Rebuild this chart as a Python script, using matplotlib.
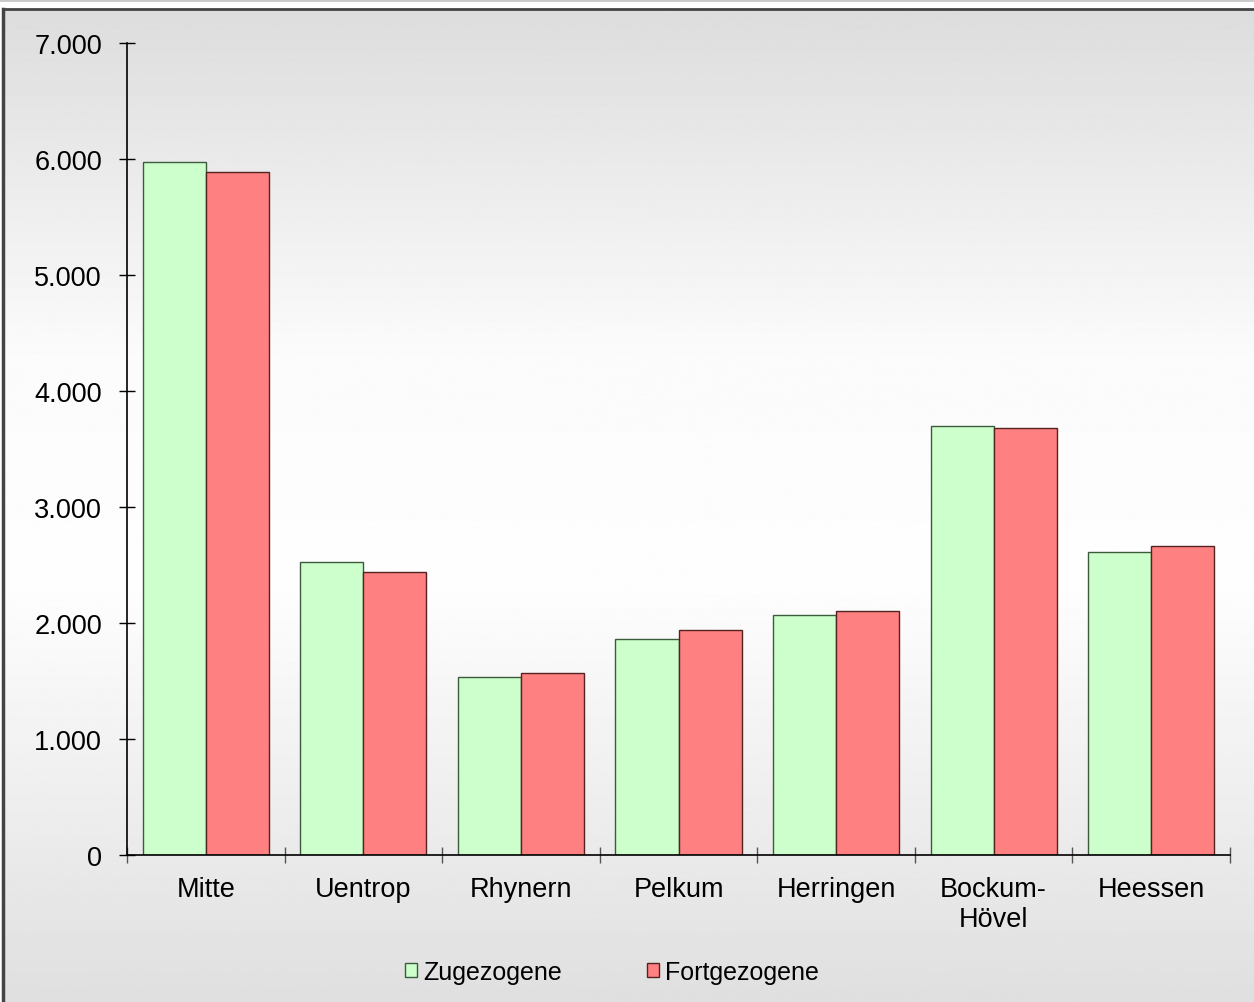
import numpy as np
import matplotlib.pyplot as plt

plt.rcParams['font.family'] = ['Liberation Sans', 'DejaVu Sans']

# Stadtbezirke
bezirke = ['Mitte', 'Uentrop', 'Rhynern', 'Pelkum', 'Herringen', 'Bockum-\nHövel', 'Heessen']
zugezogene = [5970, 2525, 1535, 1860, 2070, 3700, 2610]
fortgezogene = [5890, 2440, 1570, 1940, 2105, 3680, 2665]

W, H = 1254, 1003
fig = plt.figure(figsize=(W / 100, H / 100), dpi=100)

# background: white strip on top, grey-white-grey gradient inside the frame
bg = fig.add_axes([0, 0, 1, 1], zorder=-1)
bg.set_xlim(0, W)
bg.set_ylim(H, 0)
bg.axis('off')
y = np.linspace(0, 1, 400)
shade = np.interp(y, [0, 0.42, 0.65, 1.0], [0.875, 0.995, 0.985, 0.865])
bg.imshow(shade[:, None], aspect='auto', cmap='gray', vmin=0, vmax=1,
          extent=[3, W, H, 10], origin='lower')
bg.plot([0, W], [1, 1], color='#c8c8c8', lw=2)
bg.plot([3, W], [10, 10], color='#444444', lw=2)
bg.plot([3, 3], [10, H], color='#444444', lw=2.5)

ax = fig.add_axes([127 / W, 1 - 856 / H, (1230 - 127) / W, (856 - 44) / H])
ax.patch.set_alpha(0)

x = np.arange(len(bezirke))
w = 0.4
ax.bar(x - w / 2, zugezogene, w, color='#ccffcc', edgecolor='#3d5a3d', lw=1, label='Zugezogene')
ax.bar(x + w / 2, fortgezogene, w, color='#ff8080', edgecolor='#552222', lw=1, label='Fortgezogene')

ax.set_xlim(-0.5, len(bezirke) - 0.5)
ax.set_ylim(0, 7000)
ax.set_yticks(range(0, 7001, 1000))
ax.set_yticklabels(['0' if v == 0 else f'{v // 1000}.000' for v in range(0, 7001, 1000)], fontsize=19.5)
ax.set_xticks(x)
ax.set_xticklabels(bezirke, fontsize=19.5, linespacing=1.2)
ax.tick_params(axis='x', length=0, pad=15)
ax.tick_params(axis='y', length=12, direction='inout', pad=12, width=1)

# category separator ticks on x axis
ax.set_xticks(np.arange(-0.5, len(bezirke)), minor=True)
ax.tick_params(axis='x', which='minor', length=12, direction='inout', width=1, color='#555555')

for s in ['top', 'right']:
    ax.spines[s].set_visible(False)
for s in ['left', 'bottom']:
    ax.spines[s].set_linewidth(1.2)

fig.legend(loc='center', bbox_to_anchor=(612 / W, 1 - 973 / H), ncol=2, frameon=False,
           fontsize=18, handlelength=0.48, handleheight=0.48, handletextpad=0.25,
           columnspacing=3.4)

fig.savefig('out.png', dpi=100)
